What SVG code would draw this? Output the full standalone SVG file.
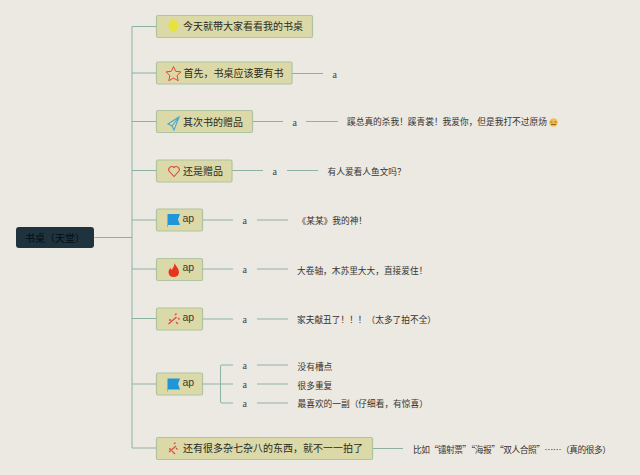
<svg xmlns="http://www.w3.org/2000/svg" width="640" height="475" viewBox="0 0 640 475">
<style>
.n{fill:#dcd9a9;stroke:#aec3a1;stroke-width:1.2}
.c{fill:none;stroke:#8db3a0;stroke-width:1}
.t{font-family:"Noto Sans CJK SC","Liberation Sans",sans-serif;font-size:10px;fill:#2a2a20}
.d{font-family:"Noto Sans CJK SC","Liberation Sans",sans-serif;font-size:8.7px;fill:#35332e}
.a{font-family:"Liberation Serif",serif;font-size:10px;fill:#44443f}
.p{font-family:"Liberation Sans",sans-serif;font-size:10.5px;fill:#3a3a30}
</style>
<rect width="640" height="475" fill="#ece8e2"/>
<g id="connectors">
<path class="c" d="M94.500 237.500H132M132 448V26.500H156M132 73H156M132 121.500H156M132 170.500H156M132 220H156M132 269H156M132 318.500H156M132 384H156M132 448H156"/>
<path class="c" d="M292 73.500H323M252 121.500H283M306 121.500H338M232 170.500H263M287 170.500H318M203 220H233M257 220H288M203 269H233M257 269H288M203 319H233M257 319H288M372 448.500H403"/>
<path class="c" d="M203 384H233M220.500 384V365.500Q220.500 365 222 365H233M220.500 384V402Q220.500 403 222 403H233M257 365H288M257 384H288M257 403H288"/>
</g>
<g id="root"><rect x="16" y="227" width="78" height="21" rx="3" fill="#1f333e"/><text x="25" y="242" font-family="Noto Sans CJK SC,Liberation Sans,sans-serif" font-size="10" fill="#060c10">书桌（天堂）</text></g>
<g id="n1"><rect class="n" x="156.500" y="15.500" width="156" height="22" rx="1.500"/><path d="M173.500 20a5.200 5.200 0 0 1 3.500 9l-1 2.500h-5l-1-2.500a5.200 5.200 0 0 1 3.500-9z" fill="#e8e23e"/><text class="t" x="183" y="30">今天就带大家看看我的书桌</text></g>
<g id="n2"><rect class="n" x="156.500" y="62" width="135.500" height="22" rx="1.500"/><path d="M173.500 66.500l2.200 4.800 5.300.6-3.900 3.600 1.100 5.200-4.700-2.600-4.700 2.600 1.100-5.200-3.900-3.600 5.300-.6z" fill="none" stroke="#e8443a" stroke-width="1"/><text class="t" x="183.500" y="77">首先，书桌应该要有书</text></g>
<g id="n3"><rect class="n" x="156.500" y="110.500" width="96" height="22" rx="1.500"/><path d="M179 117l-11 7 4 2 2 4zL172 126" fill="none" stroke="#4aa5cf" stroke-width="1.100"/><text class="t" x="183" y="125.500">其次书的赠品</text></g>
<g id="n4"><rect class="n" x="156.500" y="160" width="75.500" height="22" rx="1.500"/><path d="M174 176.500l-5-5.500a3.100 3.100 0 0 1 5-3.500 3.100 3.100 0 0 1 5 3.500z" fill="none" stroke="#d8483e" stroke-width="1.100"/><text class="t" x="183" y="175">还是赠品</text></g>
<g id="n5"><rect class="n" x="156.500" y="209" width="46" height="22" rx="1.500"/><path d="M168 214h12l-2 5.500 2 5.500h-12v2h-.5v-13z" fill="#1f96dc"/><text class="p" x="182.500" y="222">ap</text></g>
<g id="n6"><rect class="n" x="156.500" y="258.500" width="46" height="22" rx="1.500"/><path d="M174.500 263c1 3 4.500 5 4.500 9.500a5.300 5.300 0 0 1-10.500 0c0-2 1-3.500 2-4.500l1 2c1.500-2 3-4 3-7z" fill="#e8361e"/><text class="p" x="182.500" y="271">ap</text></g>
<g id="n7"><rect class="n" x="156.500" y="308" width="46" height="22" rx="1.500"/><path d="M168.500 324l8-7M175 315l1.500-1.500M178 318l1.500 1.500M176 322l2 2" fill="none" stroke="#d94a48" stroke-width="1.300"/><circle cx="170" cy="320" r="1" fill="#d94a48"/><text class="p" x="182.500" y="321">ap</text></g>
<g id="n8"><rect class="n" x="156.500" y="373" width="46" height="22" rx="1.500"/><path d="M168 378.500h12l-2 5.500 2 5.500h-12v2h-.5v-13z" fill="#1f96dc"/><text class="p" x="182.500" y="386">ap</text></g>
<g id="n9"><rect class="n" x="156.500" y="437.500" width="216" height="22" rx="1.500"/><path d="M169 452l7-6M174 444l1.500-1.500M176 448l1.500 1.500M172 451l3 3" fill="none" stroke="#d9534a" stroke-width="1.300"/><circle cx="170" cy="449" r="1" fill="#d9534a"/><text class="t" x="183" y="452">还有很多杂七杂八的东西，就不一一拍了</text></g>
<g id="l2"><text class="a" x="332.500" y="77.500">a</text></g>
<g id="l3a"><text class="a" x="292.500" y="125.500">a</text></g>
<g id="l3b"><text class="d" x="347" y="125">蹊总真的杀我！蹊青裳！我爱你，但是我打不过原炀</text><circle cx="553.500" cy="122.500" r="4.300" fill="#f2c04a"/><path d="M550.500 122h2M554.500 122h2M551 124.500h5" stroke="#6a4a20" stroke-width=".8" fill="none"/></g>
<g id="l4a"><text class="a" x="272.500" y="174.500">a</text></g>
<g id="l4b"><text class="d" x="327.500" y="174.500">有人爱看人鱼文吗？</text></g>
<g id="l5a"><text class="a" x="242.500" y="224">a</text></g>
<g id="l5b"><text class="d" x="297.500" y="224">《某某》我的神！</text></g>
<g id="l6a"><text class="a" x="242.500" y="273">a</text></g>
<g id="l6b"><text class="d" x="297" y="274">大卷轴，木苏里大大，直接爱住！</text></g>
<g id="l7a"><text class="a" x="242.500" y="323">a</text></g>
<g id="l7b"><text class="d" x="297" y="323">家夫献丑了！！！（太多了拍不全）</text></g>
<g id="l8a"><text class="a" x="242.500" y="369">a</text></g>
<g id="l8b"><text class="d" x="297.500" y="369.500">没有槽点</text></g>
<g id="l8c"><text class="a" x="242.500" y="388">a</text></g>
<g id="l8d"><text class="d" x="297.500" y="388.500">很多重复</text></g>
<g id="l8e"><text class="a" x="242.500" y="407">a</text></g>
<g id="l8f"><text class="d" x="297.500" y="407">最喜欢的一副（仔细看，有惊喜）</text></g>
<g id="l9"><text class="d" x="413" y="452.500" textLength="198" lengthAdjust="spacing">比如“镭射票”“海报”“双人合照”……（真的很多）</text></g>
</svg>
